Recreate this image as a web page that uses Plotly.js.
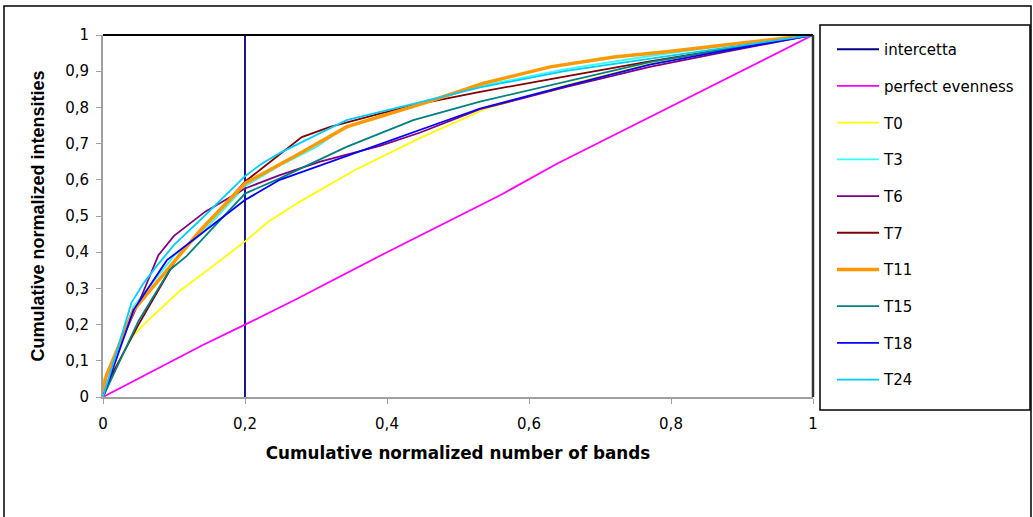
<!DOCTYPE html>
<html>
<head>
<meta charset="utf-8">
<script src="https://cdn.plot.ly/plotly-3.0.1.min.js"></script>
<style>html,body{margin:0;padding:0;background:#fff;}#chart{width:1033px;height:517px;}</style>
</head>
<body>
<div id="chart"></div>
<script>
// ---- data ----
const seriesNames = ["intercetta","perfect evenness","T0","T3","T6","T7","T11","T15","T18","T24"];

const interX = [0.2, 0.2];
const interY = [0, 1];

const evenX = [0, 0.14, 0.2, 0.27, 0.4, 0.56, 0.64, 0.86, 1];
const evenY = [0, 0.143, 0.2, 0.268, 0.4, 0.558, 0.645, 0.862, 1];

const t0X = [0, 0.015, 0.031, 0.04, 0.057, 0.108, 0.151, 0.2, 0.233, 0.275, 0.355, 0.446, 0.54, 0.65, 0.77, 0.88, 1];
const t0Y = [0, 0.07, 0.13, 0.165, 0.199, 0.293, 0.356, 0.43, 0.484, 0.537, 0.627, 0.715, 0.797, 0.86, 0.92, 0.96, 1];

const t3X = [0, 0.02, 0.043, 0.1, 0.137, 0.2, 0.25, 0.3, 0.343, 0.45, 0.53, 0.65, 0.77, 0.88, 1];
const t3Y = [0, 0.13, 0.25, 0.39, 0.448, 0.582, 0.64, 0.69, 0.748, 0.81, 0.858, 0.905, 0.942, 0.972, 1];

const t6X = [0, 0.005, 0.052, 0.078, 0.1, 0.144, 0.2, 0.249, 0.306, 0.39, 0.446, 0.531, 0.65, 0.77, 0.88, 1];
const t6Y = [0, 0.065, 0.268, 0.392, 0.445, 0.512, 0.576, 0.613, 0.65, 0.694, 0.73, 0.795, 0.855, 0.912, 0.955, 1];

const t7X = [0, 0.012, 0.05, 0.106, 0.2, 0.28, 0.32, 0.39, 0.446, 0.531, 0.65, 0.77, 0.88, 1];
const t7Y = [0, 0.06, 0.2, 0.39, 0.595, 0.718, 0.746, 0.783, 0.81, 0.843, 0.885, 0.927, 0.962, 1];

const t11X = [0, 0.003, 0.043, 0.094, 0.137, 0.2, 0.27, 0.343, 0.451, 0.535, 0.63, 0.72, 0.8, 0.9, 1];
const t11Y = [0, 0.05, 0.24, 0.36, 0.46, 0.59, 0.665, 0.746, 0.811, 0.866, 0.912, 0.939, 0.955, 0.978, 1];

const t15X = [0, 0.05, 0.094, 0.118, 0.2, 0.249, 0.343, 0.437, 0.531, 0.65, 0.77, 0.88, 1];
const t15Y = [0, 0.21, 0.351, 0.39, 0.562, 0.604, 0.691, 0.765, 0.816, 0.87, 0.925, 0.962, 1];

const t18X = [0, 0.043, 0.09, 0.13, 0.2, 0.249, 0.343, 0.437, 0.531, 0.65, 0.77, 0.88, 1];
const t18Y = [0, 0.24, 0.378, 0.438, 0.544, 0.6, 0.665, 0.73, 0.797, 0.858, 0.918, 0.958, 1];

const t24X = [0, 0.04, 0.057, 0.075, 0.1, 0.137, 0.2, 0.224, 0.25, 0.343, 0.437, 0.531, 0.65, 0.77, 0.88, 1];
const t24Y = [0, 0.26, 0.314, 0.36, 0.42, 0.489, 0.61, 0.645, 0.675, 0.765, 0.81, 0.855, 0.9, 0.935, 0.965, 1];

const xTicks = [0, 0.2, 0.4, 0.6, 0.8, 1];
const xTickText = ["0", "0,2", "0,4", "0,6", "0,8", "1"];
const yTicks = [0, 0.1, 0.2, 0.3, 0.4, 0.5, 0.6, 0.7, 0.8, 0.9, 1];
const yTickText = ["0", "0,1", "0,2", "0,3", "0,4", "0,5", "0,6", "0,7", "0,8", "0,9", "1"];

// ---- styling ----
const colors = ["#000080","#FF00FF","#FFFF00","#33FFFF","#800080","#800000","#FF9900","#008080","#0000FF","#00CCFF"];
const widths = [1.8, 1.8, 1.8, 1.8, 1.8, 1.8, 3.5, 1.8, 1.8, 1.8];
const xs = [interX, evenX, t0X, t3X, t6X, t7X, t11X, t15X, t18X, t24X];
const ys = [interY, evenY, t0Y, t3Y, t6Y, t7Y, t11Y, t15Y, t18Y, t24Y];

const traces = seriesNames.map((n, i) => ({
  type: "scatter", mode: "lines", name: n,
  x: xs[i], y: ys[i],
  line: {color: colors[i], width: widths[i]},
  legendgroup: "g" + i,
  hoverinfo: "skip"
}));

const W = 1033, H = 517;
const L = 103, R = 813, T = 35, B = 397;
const px = v => (v - L) / (R - L);
const py = v => (B - v) / (B - T);

const wide = "DejaVu Sans, Verdana, sans-serif";
const narrow = "Liberation Sans, Arial, sans-serif";

const layout = {
  width: W, height: H,
  margin: {l: L, r: W - R, t: T, b: H - B, pad: 0},
  paper_bgcolor: "#ffffff",
  plot_bgcolor: "#ffffff",
  showlegend: true,
  font: {family: wide, size: 15, color: "#000"},
  xaxis: {
    range: [0, 1], tickvals: xTicks, ticktext: xTickText,
    showgrid: false, zeroline: false,
    showline: true, linecolor: "#a0a0a0", linewidth: 2,
    ticks: "outside", ticklen: 5, tickcolor: "#a0a0a0", tickwidth: 1,
    ticklabelstandoff: 7,
    tickfont: {family: wide, size: 15, color: "#000"},
    title: {text: "<b>Cumulative normalized number of bands</b>", font: {family: wide, size: 16.8, color: "#000"}, standoff: 15}
  },
  yaxis: {
    range: [0, 1], tickvals: yTicks, ticktext: yTickText,
    showgrid: false, zeroline: false,
    showline: true, linecolor: "#a0a0a0", linewidth: 2,
    ticks: "outside", ticklen: 5, tickcolor: "#a0a0a0", tickwidth: 1,
    ticklabelstandoff: 4,
    tickfont: {family: wide, size: 15, color: "#000"},
    title: {text: "<b>Cumulative normalized intensities</b>", font: {family: narrow, size: 18, color: "#000"}, standoff: 16}
  },
  legend: {
    x: px(832), y: py(33), xanchor: "left", yanchor: "top",
    bgcolor: "rgba(0,0,0,0)", borderwidth: 0,
    font: {family: wide, size: 15, color: "#000"},
    traceorder: "grouped", tracegroupgap: 14.2,
    itemwidth: 42,
    maxheight: 460
  },
  shapes: [
    // plot area top and right border
    {type: "line", xref: "paper", yref: "paper", x0: 0, x1: 1, y0: 1, y1: 1, line: {color: "#000", width: 2}},
    {type: "line", xref: "paper", yref: "paper", x0: 1, x1: 1, y0: 0, y1: 1, line: {color: "#333", width: 2.5}},
    // legend box
    {type: "rect", xref: "paper", yref: "paper", x0: px(820), x1: px(1030), y0: py(410), y1: py(25), line: {color: "#000", width: 1.5}, fillcolor: "#ffffff", layer: "below"},
    // outer chart frame
    {type: "rect", xref: "paper", yref: "paper", x0: px(4), x1: px(1031), y0: py(540), y1: py(6), line: {color: "#000", width: 1.5}, layer: "below"}
  ]
};

Plotly.newPlot("chart", traces, layout, {displayModeBar: false, staticPlot: true});
</script>
</body>
</html>
